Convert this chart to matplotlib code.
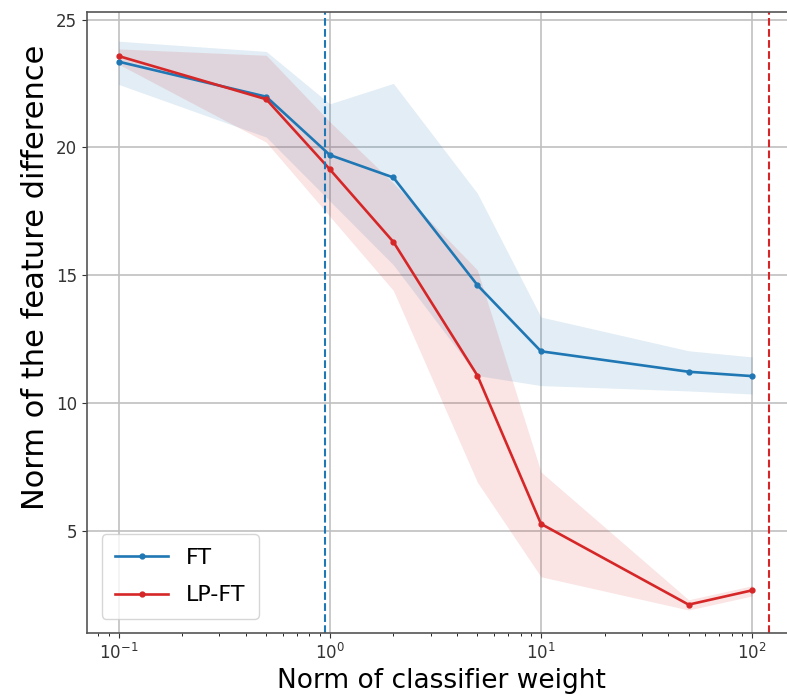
import numpy as np
import matplotlib
matplotlib.use("Agg")
import matplotlib.pyplot as plt

# ==================
# Data
# ==================
weight_norm = [0.1, 0.5, 1, 2, 5, 10, 50, 100]

ft_mean = [23.35, 21.98, 19.7, 18.82, 14.61, 12.02, 11.22, 11.05]
ft_upper = [24.15, 23.75, 21.7, 22.5, 18.2, 13.36, 12.04, 11.8]
ft_lower = [22.46, 20.4, 17.9, 15.4, 11.07, 10.68, 10.47, 10.35]

lpft_mean = [23.57, 21.88, 19.14, 16.3, 11.07, 5.27, 2.11, 2.67]
lpft_upper = [23.85, 23.6, 21.0, 18.6, 15.2, 7.3, 2.3, 2.85]
lpft_lower = [23.25, 20.2, 17.3, 14.4, 6.9, 3.2, 1.9, 2.45]

ft_threshold = 0.95
lpft_threshold = 120

blue = '#1f77b4'
red = '#d62728'

# ==================
# Plot
# ==================
fig = plt.figure(figsize=(7.87, 6.96), dpi=100)
# right spine sits just past the canvas edge, like the cropped original
ax = fig.add_axes([0.1105, 0.0905, 0.9, 0.8925])

ax.fill_between(weight_norm, ft_lower, ft_upper, color=blue, alpha=0.13, linewidth=0)
ax.fill_between(weight_norm, lpft_lower, lpft_upper, color=red, alpha=0.12, linewidth=0)
ax.plot(weight_norm, ft_mean, color=blue, marker='.', markersize=7, linewidth=1.9, label='FT')
ax.plot(weight_norm, lpft_mean, color=red, marker='.', markersize=7, linewidth=1.9, label='LP-FT')

ax.axvline(ft_threshold, color=blue, linestyle='--', linewidth=1.5)
ax.axvline(lpft_threshold, color=red, linestyle='--', linewidth=1.5)

ax.set_xscale('log')
ax.set_xlim(0.0708, 160)
ax.set_ylim(1.0, 25.3)
ax.set_yticks([5, 10, 15, 20, 25])
ax.grid(True, which='major', color='#c0c0c0', linewidth=1.2)
ax.set_axisbelow(True)

ax.tick_params(axis='both', which='major', labelsize=12, colors='#333333')
for side in ['left', 'bottom', 'top', 'right']:
    ax.spines[side].set_color('#555555')
    ax.spines[side].set_linewidth(1.2)

ax.set_xlabel('Norm of classifier weight', fontsize=19, labelpad=4)
ax.set_ylabel('Norm of the feature difference', fontsize=22)
ax.yaxis.set_label_coords(-0.052, 0.573)

ax.legend(loc='lower left', fontsize=16, handlelength=2.4, labelspacing=0.8,
          borderpad=0.6, bbox_to_anchor=(0.005, 0.005))

plt.savefig('out.png', dpi=100)
plt.close()
